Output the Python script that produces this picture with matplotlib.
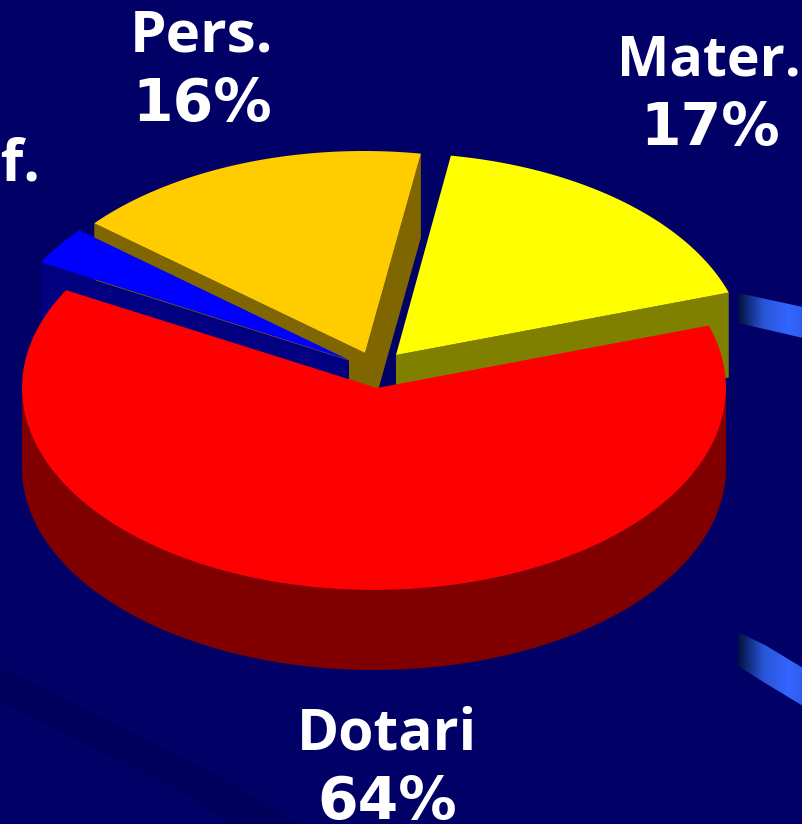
import numpy as np
import matplotlib
matplotlib.use('Agg')
import matplotlib.pyplot as plt
from matplotlib.patches import Polygon
from matplotlib.colors import LinearSegmentedColormap

labels = ['Mater.', 'Pers.', 'Inf.', 'Dotari']
values = [17, 16, 3, 64]
top_colors = ['#FFFF00', '#FFCC00', '#0000FF', '#FF0000']
side_colors = ['#808000', '#806600', '#000080', '#800000']

# pie geometry, all in pixels of the picture
centers = [(394, 355), (364, 353), (349, 360), (374, 388)]
apexes = [(396, 355), (365, 353), (349, 360), (377, 388)]
rx, ry = 352, 202
depths = [85, 84, 84, 80]
start_angle = 19.8
bg = '#000066'

fig = plt.figure(figsize=(8.03, 8.24), dpi=100, facecolor=bg)
ax = fig.add_axes([0, 0, 1, 1])
ax.set_facecolor(bg)
ax.axis('off')


# tilted view stretches the back of the pie a little
def view_angle(a):
    return a - 1.9 * np.cos(np.radians(a))


def arc(center, a1, a2, dy=0):
    t = np.radians(np.linspace(a1, a2, 120))
    return np.column_stack([center[0] + rx * np.cos(t), center[1] - ry * np.sin(t) + dy])


# slice angles from the values
edges = start_angle + np.cumsum([0] + values) * 3.6
a1s = view_angle(edges[:-1])
a2s = view_angle(edges[1:])
a2s[3] = a1s[0] + 360


def cut_face(i, a, color):
    p = arc(centers[i], a, a, 0)[0]
    q = apexes[i]
    d = depths[i]
    ax.add_patch(Polygon([q, p, (p[0], p[1] + d), (q[0], q[1] + d)], fc=color, ec='none', zorder=2 + i))


# faint dark streak in the background, lower left
ax.add_patch(Polygon([(0, 668), (50, 690), (100, 717), (213, 773), (300, 824), (230, 824),
                      (167, 783), (67, 735), (0, 702)], fc='#00005C', ec='none', zorder=0.5))

# back to front: yellow, gold, blue, red
cut_face(0, a1s[0], side_colors[0])
ax.add_patch(Polygon(np.vstack([apexes[0], arc(centers[0], a1s[0], a2s[0])]),
                     fc=top_colors[0], ec='none', zorder=2.5))

cut_face(1, a1s[1], side_colors[1])
cut_face(1, a2s[1], side_colors[1])
ax.add_patch(Polygon(np.vstack([apexes[1], arc(centers[1], a1s[1], a2s[1])]),
                     fc=top_colors[1], ec='none', zorder=3.5))

cut_face(2, a2s[2], side_colors[2])
ax.plot([96, 349], [280, 360], color='#806600', lw=0.7, zorder=4.2)
ax.add_patch(Polygon(np.vstack([apexes[2], arc(centers[2], a1s[2], a2s[2])]),
                     fc=top_colors[2], ec='none', zorder=4.5))

# red outer wall then top
wall = np.vstack([arc(centers[3], 180, 360), arc(centers[3], 360, 180, depths[3])])
ax.add_patch(Polygon(wall, fc=side_colors[3], ec='none', zorder=5))
ax.add_patch(Polygon(np.vstack([apexes[3], arc(centers[3], a1s[3], a2s[3])]),
                     fc=top_colors[3], ec='none', zorder=5.5))

# blue ribbons cut off at the right edge
ribbon = LinearSegmentedColormap.from_list('ribbon', ['#00103F', '#2A55D8', '#3366FF', '#2A55D8'])
grad = np.linspace(0, 1, 256).reshape(1, -1)
ribbon_shapes = [
    [(738, 293), (803, 307), (803, 338), (738, 323)],
    [(738, 632), (765, 645), (803, 668), (803, 706), (765, 683), (738, 666)],
]
for shape in ribbon_shapes:
    im = ax.imshow(grad, cmap=ribbon, extent=(738, 815, 720, 280), aspect='auto', zorder=1)
    im.set_clip_path(Polygon(shape, transform=ax.transData))

ax.set_xlim(0, 803)
ax.set_ylim(824, 0)

# labels: words in Open Sans, percents in the wider DejaVu digits
word = dict(color='white', fontweight='bold', family='Open Sans', zorder=10, clip_on=False,
            va='center')
pct = dict(color='white', fontweight='bold', family='DejaVu Sans', fontsize=42, zorder=10,
           clip_on=False, ha='center', va='center')
ax.text(709, 61, labels[0], ha='center', fontsize=40, **word)
ax.text(710, 128, f'{values[0]}%', **pct)
ax.text(202, 36, labels[1], ha='center', fontsize=42, **word)
ax.text(202, 104, f'{values[1]}%', **pct)
ax.text(41, 165, labels[2], ha='right', fontsize=42, **word)
ax.text(387, 735, labels[3], ha='center', fontsize=41, **word)
ax.text(387, 803, f'{values[3]}%', **pct)

fig.savefig('out.png', dpi=100, facecolor=bg)
